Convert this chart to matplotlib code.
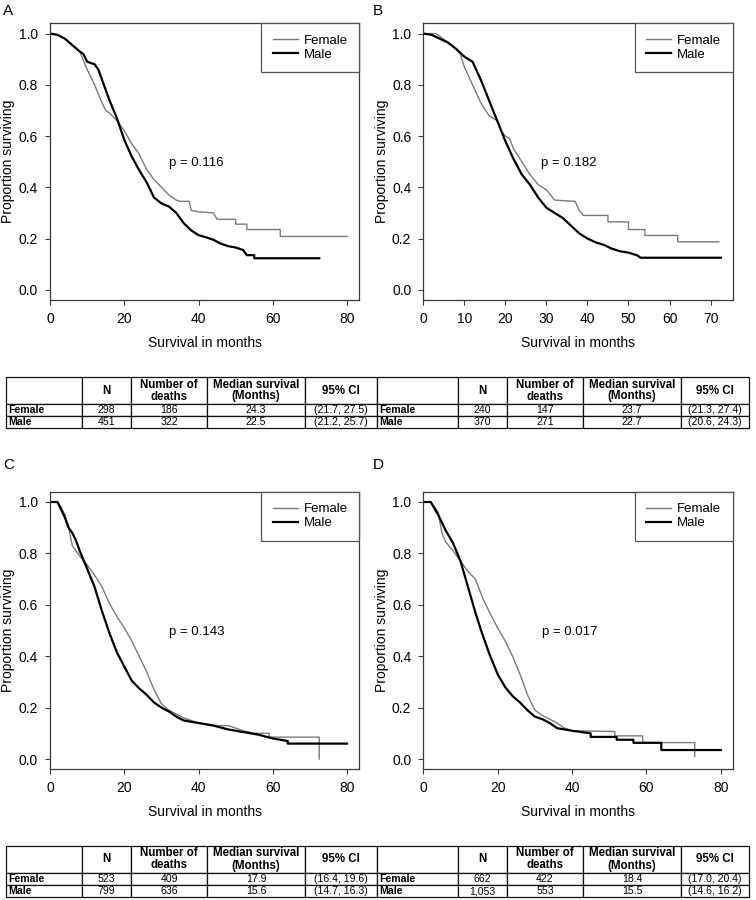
import matplotlib
matplotlib.use("Agg")
import matplotlib.pyplot as plt
from matplotlib import font_manager

plt.rcParams['font.family'] = ['Liberation Sans', 'DejaVu Sans']

W, H = 756, 900

# ---- survival curves (months, proportion surviving) ----
t_fem_A = [0, 2, 4, 6, 8, 10, 12, 14, 15, 16, 18, 20, 22, 24, 26, 28, 30, 32, 34, 35, 37.5, 38, 40, 44, 45, 50, 50, 53, 53, 62, 62, 80]
s_fem_A = [1.0, 0.995, 0.98, 0.955, 0.93, 0.86, 0.80, 0.73, 0.70, 0.69, 0.66, 0.62, 0.57, 0.53, 0.47, 0.43, 0.40, 0.37, 0.35, 0.345, 0.345, 0.31, 0.304, 0.30, 0.275, 0.275, 0.256, 0.256, 0.235, 0.235, 0.208, 0.208]
t_mal_A = [0, 2, 4, 6, 8, 9, 10, 12, 13, 14, 16, 18, 20, 22, 24, 26, 28, 30, 32, 34, 36, 38, 40, 42, 44, 46, 48, 50, 52, 53, 55, 55, 72.5]
s_mal_A = [1.0, 0.995, 0.98, 0.955, 0.93, 0.92, 0.89, 0.88, 0.86, 0.82, 0.74, 0.67, 0.585, 0.52, 0.467, 0.42, 0.36, 0.337, 0.325, 0.30, 0.26, 0.232, 0.213, 0.205, 0.195, 0.18, 0.17, 0.165, 0.155, 0.135, 0.135, 0.123, 0.123]

t_fem_B = [0, 3, 4, 6, 8, 9, 10, 12, 14, 16, 18, 19, 20, 21, 22, 24, 26, 28, 30, 32, 37, 38, 39, 45, 45, 50, 50, 54, 54, 62, 62, 72]
s_fem_B = [1.0, 1.0, 0.99, 0.965, 0.94, 0.92, 0.87, 0.80, 0.73, 0.68, 0.66, 0.62, 0.60, 0.59, 0.55, 0.50, 0.45, 0.41, 0.39, 0.35, 0.345, 0.31, 0.29, 0.29, 0.265, 0.265, 0.235, 0.235, 0.212, 0.212, 0.187, 0.187]
t_mal_B = [0, 2, 4, 6, 8, 10, 12, 14, 16, 18, 20, 22, 24, 26, 28, 30, 32, 34, 36, 38, 40, 42, 44, 46, 48, 50, 52, 53, 72.5]
s_mal_B = [1.0, 0.995, 0.98, 0.965, 0.94, 0.91, 0.89, 0.82, 0.74, 0.66, 0.58, 0.51, 0.45, 0.41, 0.36, 0.32, 0.30, 0.28, 0.25, 0.22, 0.20, 0.185, 0.175, 0.16, 0.15, 0.145, 0.135, 0.125, 0.125]

t_fem_C = [0, 2, 3, 4, 5, 6, 8, 10, 12, 14, 16, 18, 20, 22, 24, 26, 28, 30, 32, 34, 36, 40, 45, 48, 50, 52, 55, 59, 59, 72.5, 72.5]
s_fem_C = [1.0, 1.0, 0.98, 0.95, 0.90, 0.83, 0.79, 0.755, 0.715, 0.67, 0.605, 0.555, 0.51, 0.46, 0.40, 0.34, 0.27, 0.215, 0.19, 0.175, 0.16, 0.14, 0.13, 0.13, 0.12, 0.11, 0.10, 0.10, 0.085, 0.085, 0.0]
t_mal_C = [0, 2, 3, 4, 5, 6, 7, 8, 10, 12, 14, 16, 18, 20, 22, 24, 26, 28, 30, 32, 34, 36, 40, 44, 48, 52, 56, 60, 64, 64, 80]
s_mal_C = [1.0, 1.0, 0.97, 0.94, 0.90, 0.88, 0.85, 0.81, 0.74, 0.67, 0.575, 0.49, 0.415, 0.36, 0.305, 0.275, 0.25, 0.22, 0.20, 0.185, 0.165, 0.15, 0.14, 0.13, 0.115, 0.105, 0.095, 0.08, 0.07, 0.06, 0.06]

t_fem_D = [0, 2, 4, 5, 6, 8, 10, 12, 14, 16, 18, 20, 22, 24, 26, 28, 30, 32, 34, 36, 38, 40, 51.5, 51.5, 59, 59, 73, 73]
s_fem_D = [1.0, 1.0, 0.96, 0.88, 0.845, 0.81, 0.77, 0.73, 0.70, 0.625, 0.565, 0.51, 0.46, 0.40, 0.33, 0.25, 0.19, 0.17, 0.155, 0.14, 0.12, 0.11, 0.107, 0.09, 0.09, 0.064, 0.064, 0.01]
t_mal_D = [0, 2, 4, 6, 8, 10, 12, 14, 16, 18, 20, 22, 24, 26, 28, 30, 32, 34, 36, 40, 45, 45, 52, 52, 56.5, 56.5, 64, 64, 80]
s_mal_D = [1.0, 1.0, 0.95, 0.89, 0.84, 0.77, 0.67, 0.57, 0.48, 0.40, 0.33, 0.28, 0.245, 0.22, 0.19, 0.165, 0.155, 0.14, 0.12, 0.11, 0.10, 0.086, 0.086, 0.075, 0.075, 0.063, 0.063, 0.035, 0.035]

p_values = ['0.116', '0.182', '0.143', '0.017']
panel_letters = ['A', 'B', 'C', 'D']
x_ticks_A = [0, 20, 40, 60, 80]
x_ticks_B = [0, 10, 20, 30, 40, 50, 60, 70]
x_max = [80, 72.5, 80, 80]

# ---- summary tables ----
groups = ['Female', 'Male']
col_labels = ['', 'N', 'Number of\ndeaths', 'Median survival\n(Months)', '95% CI']
n_A, deaths_A, med_A, ci_A = [298, 451], [186, 322], [24.3, 22.5], ['(21.7, 27.5)', '(21.2, 25.7)']
n_B, deaths_B, med_B, ci_B = [240, 370], [147, 271], [23.7, 22.7], ['(21.3, 27.4)', '(20.6, 24.3)']
n_C, deaths_C, med_C, ci_C = [523, 799], [409, 636], [17.9, 15.6], ['(16.4, 19.6)', '(14.7, 16.3)']
n_D, deaths_D, med_D, ci_D = [662, 1053], [422, 553], [18.4, 15.5], ['(17.0, 20.4)', '(14.6, 16.2)']

GRAY = '#7a7a7a'
EDGE = '#3a3a3a'

# body of the tables is set in a condensed face when one is around
installed = {f.name for f in font_manager.fontManager.ttflist}
if 'Liberation Sans Narrow' in installed:
    body_family, body_size = 'Liberation Sans Narrow', 8.6
else:
    body_family, body_size = 'Liberation Sans', 7.6

fig = plt.figure(figsize=(W / 100, H / 100), dpi=100)


def px_axes(l, t, r, b):
    return fig.add_axes([l / W, 1 - b / H, (r - l) / W, (b - t) / H])


def km_panel(ax, tf, sf, tm, sm, xmax, xticks, pval):
    ax.plot(tf, sf, color=GRAY, lw=1.0, label='Female')
    ax.plot(tm, sm, color='black', lw=1.6, label='Male')
    ax.set_xlim(0, xmax * 1.04)
    ax.set_ylim(-0.04, 1.04)
    ax.set_xticks(xticks)
    ax.set_yticks([0, 0.2, 0.4, 0.6, 0.8, 1.0])
    ax.set_yticklabels(['%.1f' % v for v in [0, 0.2, 0.4, 0.6, 0.8, 1.0]])
    ax.tick_params(direction='out', length=3.6, width=0.8, color=EDGE,
                   labelsize=10, pad=5)
    for sp in ax.spines.values():
        sp.set_color(EDGE)
        sp.set_linewidth(0.9)
    ax.set_xlabel('Survival in months', fontsize=10, labelpad=7)
    ax.set_ylabel('Proportion surviving', fontsize=10, labelpad=2.5)
    ax.text(32 if xmax > 75 else 28.7, 0.495, 'p = ' + pval, fontsize=9.5, va='center')
    leg = ax.legend(loc='upper right', borderaxespad=0, fancybox=False,
                    fontsize=9.5, handlelength=1.9, handletextpad=0.45,
                    borderpad=0.85, labelspacing=0.15, framealpha=1)
    leg.get_frame().set_edgecolor('#555555')
    leg.get_frame().set_linewidth(0.9)


curves = [(t_fem_A, s_fem_A, t_mal_A, s_mal_A), (t_fem_B, s_fem_B, t_mal_B, s_mal_B),
          (t_fem_C, s_fem_C, t_mal_C, s_mal_C), (t_fem_D, s_fem_D, t_mal_D, s_mal_D)]
boxes = [(50, 23.3, 359, 300), (423.3, 23.3, 732.7, 300),
         (50, 491.7, 359, 769.3), (423.3, 491.7, 732.7, 769.3)]
letter_pos = [(3, 4), (373, 4), (3, 458), (373, 458)]

for i in range(4):
    ax = px_axes(*boxes[i])
    xt = x_ticks_B if i == 1 else x_ticks_A
    km_panel(ax, *curves[i], x_max[i], xt, p_values[i])
    lx, ly = letter_pos[i]
    fig.text(lx / W, 1 - ly / H, panel_letters[i], fontsize=11, va='top', ha='left')


def table_rows(n1, d1, m1, c1, n2, d2, m2, c2):
    rows = [col_labels + col_labels]
    for k, g in enumerate(groups):
        rows.append([g, f"{n1[k]:,}", str(d1[k]), '%.1f' % m1[k], c1[k],
                     g, f"{n2[k]:,}", str(d2[k]), '%.1f' % m2[k], c2[k]])
    return rows


col_w = [76, 49, 76, 98, 72, 81, 49, 76, 98, 68]
row_h = [27, 12, 12]


def draw_table(top, rows):
    tax = px_axes(6, top, 749, top + 51)
    tax.axis('off')
    tab = tax.table(cellText=rows, colWidths=[w / sum(col_w) for w in col_w],
                    cellLoc='center', bbox=[0, 0, 1, 1])
    tab.auto_set_font_size(False)
    for (r, c), cell in tab.get_celld().items():
        cell.set_height(row_h[r] / 51)
        cell.set_linewidth(0.9)
        cell.set_edgecolor('#111111')
        txt = cell.get_text()
        if r == 0:
            txt.set_fontsize(8.3)
            txt.set_fontweight('bold')
            txt.set_linespacing(1.0)
        else:
            txt.set_fontfamily([body_family, 'DejaVu Sans'])
            txt.set_fontsize(body_size)
            if c in (0, 5):
                txt.set_fontweight('bold')
                cell._loc = 'left'
                cell.PAD = 0.03
                txt.set_horizontalalignment('left')


draw_table(377, table_rows(n_A, deaths_A, med_A, ci_A, n_B, deaths_B, med_B, ci_B))
draw_table(846, table_rows(n_C, deaths_C, med_C, ci_C, n_D, deaths_D, med_D, ci_D))

fig.savefig('out.png', dpi=100)
